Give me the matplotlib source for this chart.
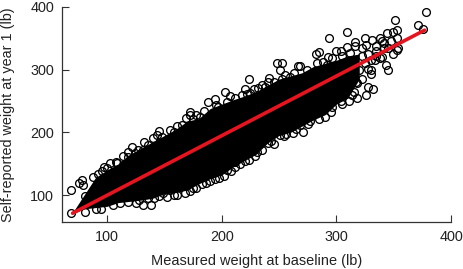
import matplotlib
matplotlib.use("Agg")
import matplotlib.pyplot as plt

plt.rcParams['font.family'] = ['Liberation Sans', 'DejaVu Sans']

# solid black body of the cloud
band_x = [70, 80, 90, 100, 110, 120, 130, 140, 150, 160, 170, 180, 190, 200, 210,
          220, 230, 240, 250, 260, 270, 280, 290, 300, 310, 320]
band_hi = [72, 100, 128, 140, 150, 165, 175, 185, 195, 205, 218, 222, 238, 245, 252,
           258, 265, 275, 285, 290, 295, 305, 310, 315, 322, 325]
band_lo = [70, 78, 80, 82, 88, 90, 92, 95, 102, 104, 108, 118, 126, 132, 145,
           155, 165, 183, 195, 200, 210, 220, 228, 245, 255, 285]

# single circles that stand out from the cloud
measured = [378, 371, 376, 351, 353, 309, 294, 325, 316, 316, 309, 285, 282, 300, 304,
            293, 343, 345, 328, 330, 328, 332, 317, 353, 349, 338, 334, 320, 314, 344,
            349, 338, 331, 326, 353, 354,
            248, 253, 251, 224, 241, 268, 267, 235, 220, 228, 203, 207, 194, 188, 185,
            218, 205, 253, 260, 246, 197, 225, 240,
            172, 172, 169, 161, 145, 144, 140, 132, 122, 131, 158, 118, 114, 124, 181,
            69, 78, 76, 79, 81, 69, 88, 96, 97, 103, 114, 109, 131, 138, 128, 136, 141,
            149, 95, 111, 118, 81,
            155, 161, 168, 175, 183, 190, 198, 205, 212, 220, 229, 231, 240, 246, 254,
            152, 212,
            268, 277, 290, 296, 304, 311, 318, 314, 318, 326, 262, 251, 271, 283, 292]
self_report = [392, 371, 365, 379, 363, 360, 350, 350, 344, 338, 336, 328, 325, 330, 330,
               320, 307, 299, 301, 293, 272, 269, 280, 331, 325, 318, 315, 299, 283, 358,
               360, 350, 347, 339, 350, 334,
               311, 311, 299, 285, 287, 306, 306, 275, 269, 269, 264, 258, 253, 248, 234,
               260, 248, 285, 288, 280, 240, 263, 280,
               232, 228, 223, 210, 202, 196, 191, 185, 177, 172, 200, 169, 162, 167, 224,
               108, 124, 119, 116, 98, 71, 129, 138, 145, 151, 148, 151, 84, 84, 92, 95, 95,
               103, 78, 87, 89, 73,
               108, 100, 103, 111, 118, 122, 127, 140, 145, 154, 162, 169, 183, 181, 194,
               97, 153,
               212, 218, 224, 240, 250, 250, 255, 260, 279, 260, 199, 196, 200, 311, 307]

# circles along the rim of the cloud
rim_x = [92, 100, 108, 118, 127, 136, 148, 155, 165, 175, 178, 195, 212, 222, 232, 238,
         255, 263, 274, 288, 296, 305, 312, 322, 335, 342,
         90, 105, 125, 145, 158, 172, 178, 186, 194, 202, 208, 216, 224, 235, 243,
         256, 265, 275, 285, 295, 305, 315, 322, 330, 340, 345, 335,
         322, 328, 335, 342, 348, 340, 330, 325]
rim_y = [133, 143, 153, 160, 172, 180, 192, 203, 212, 222, 228, 243, 255, 262, 270, 272,
         292, 295, 300, 313, 318, 322, 326, 334, 338, 342,
         78, 84, 88, 98, 100, 106, 112, 120, 125, 130, 138, 150, 156, 172, 186,
         198, 205, 214, 222, 232, 245, 265, 285, 300, 320, 335, 330,
         322, 325, 322, 335, 345, 345, 315, 310]

# fitted line
fit_x = [70, 377]
fit_y = [71, 363]

x_ticks = [100, 200, 300, 400]
y_ticks = [100, 200, 300, 400]

fig = plt.figure(figsize=(4.63, 2.69), dpi=100)
ax = fig.add_axes([62.5 / 463, 47 / 269, 388.5 / 463, 215 / 269])

ax.fill_between(band_x, band_lo, band_hi, color="black", lw=0, zorder=1)
ax.plot(measured + rim_x, self_report + rim_y, "o", mfc="none", mec="black", ms=5.6,
        mew=0.95, zorder=2, clip_on=False)
ax.plot(fit_x, fit_y, color="#e6141e", lw=2.6, solid_capstyle="round", zorder=3)

ax.set_xlim(61.2, 400)
ax.set_ylim(57, 400)
ax.set_xticks(x_ticks)
ax.set_yticks(y_ticks)

for s in ["top", "right"]:
    ax.spines[s].set_visible(False)
for s in ["left", "bottom"]:
    ax.spines[s].set_color("#333333")
    ax.spines[s].set_linewidth(0.9)

ax.tick_params(direction="in", length=5, width=0.8, color="#333333",
               labelsize=10.4, labelcolor="#222222")
ax.tick_params(axis="x", pad=6)
ax.tick_params(axis="y", pad=6)

fig.text(257 / 463, 8 / 269, "Measured weight at baseline (lb)", ha="center", va="center",
         fontsize=10.45, color="#222222")
fig.text(8 / 463, 154 / 269, "Self-reported weight at year 1 (lb)", ha="center", va="center",
         rotation=90, fontsize=10.4, color="#222222")

fig.savefig("out.png", dpi=100)
